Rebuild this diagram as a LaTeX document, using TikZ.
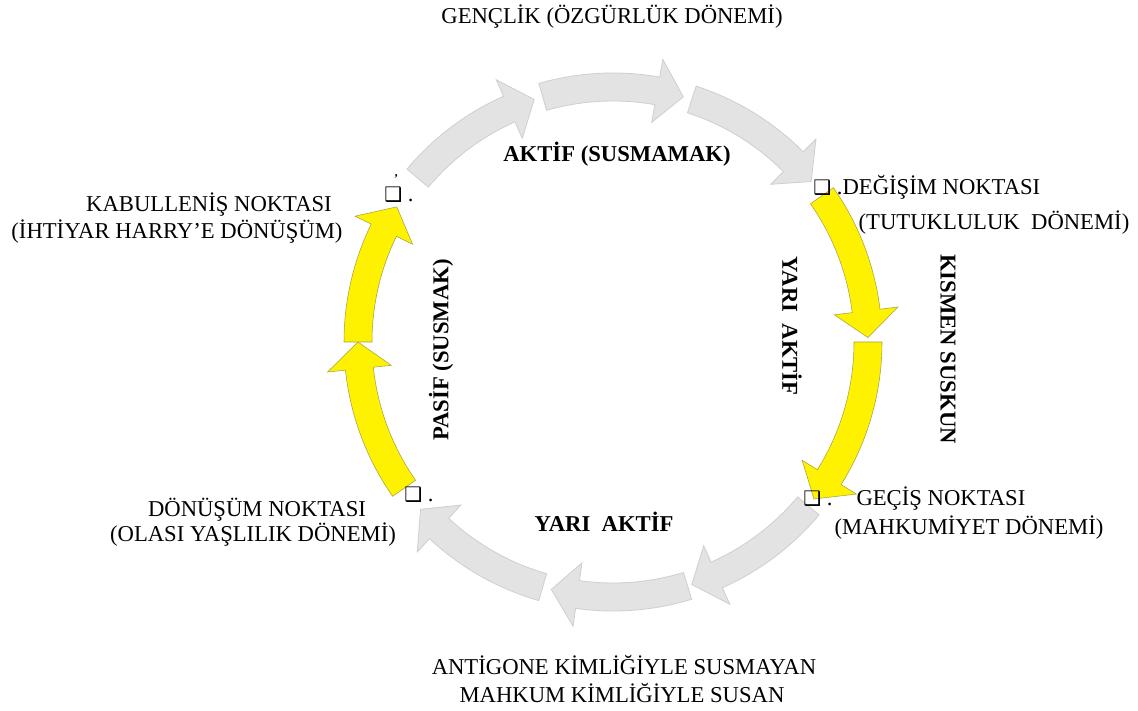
\documentclass[tikz,border=0pt]{standalone}
\usepackage{fontspec}
\setmainfont{Liberation Serif}
\newfontfamily\boxfont{DejaVu Sans}
\usepackage{tikz}
\usetikzlibrary{positioning}

% one curved block of the cycle: start angle, tip angle, style
\newcommand{\cycarrow}[3]{%
	\pgfmathsetmacro{\headang}{#2+6}
	\filldraw[#3] (#1:269) arc[start angle=#1, end angle=\headang, radius=269] -- (\headang:287) -- (#2:255) -- (\headang:223) -- (\headang:241) arc[start angle=\headang, end angle=#1, radius=241] -- cycle;
}
\newcommand{\qbox}{{\boxfont\fontsize{15}{15}\selectfont ❑}}

\begin{document}
\begin{tikzpicture}[x=0.75pt,y=0.75pt,
	txt/.style={inner sep=0pt, font=\fontsize{17}{20}\selectfont},
	bold/.style={inner sep=0pt, font=\fontsize{17}{20}\selectfont\bfseries},
	grayarrow/.style={fill=gray!22, draw=gray!38, line width=0.6pt},
	yellowarrow/.style={fill=yellow, draw=yellow!60!black, line width=0.4pt}]
\useasboundingbox[fill=white] (0,0) rectangle (1138,710);

\begin{scope}[shift={(613,368)}]
	\cycarrow{140}{108}{grayarrow}
	\cycarrow{106}{74}{grayarrow}
	\cycarrow{72}{39}{grayarrow}
	\cycarrow{35}{1}{yellowarrow}
	\cycarrow{0}{-38}{yellowarrow}
	\cycarrow{-40}{-72}{grayarrow}
	\cycarrow{-73}{-104}{grayarrow}
	\cycarrow{-106}{-139}{grayarrow}
	\cycarrow{-145}{-180}{yellowarrow}
	\cycarrow{180}{148}{yellowarrow}
\end{scope}

	\node[txt] (genclik) at (612,693) {GENÇLİK (ÖZGÜRLÜK DÖNEMİ)};
	\node[bold] (aktif) at (617,556) {AKTİF (SUSMAMAK)};

	\node[txt, anchor=west] (degisim) at (813,523) {\qbox\ .DEĞİŞİM NOKTASI};
	\node[txt] (tutuklu) at (994,487) {(TUTUKLULUK\ \ DÖNEMİ)};
	\node[bold, rotate=-90] (yariR) at (792,384) {YARI\ \ AKTİF};
	\node[bold, rotate=-90] (kismen) at (948,361) {KISMEN SUSKUN};

	\node[txt, anchor=west] (gecis) at (803,211) {\qbox\ .\hspace{18pt}GEÇİŞ NOKTASI};
	\node[txt] (mahkumiyet) at (969,182) {(MAHKUMİYET DÖNEMİ)};

	\node[bold] (yariB) at (604,188) {YARI\ \ AKTİF};
	\node[txt] (antigone) at (624,45) {ANTİGONE KİMLİĞİYLE SUSMAYAN};
	\node[txt] (mahkum) at (622,17) {MAHKUM KİMLİĞİYLE SUSAN};

	\node[txt, anchor=west] (donbox) at (404,215) {\qbox\ .};
	\node[txt] (donusum) at (257,200) {DÖNÜŞÜM NOKTASI};
	\node[txt] (olasi) at (253,175) {(OLASI YAŞLILIK DÖNEMİ)};

	\node[bold, rotate=90] (pasif) at (441,360) {PASİF (SUSMAK)};

	\node[txt, anchor=west] (kabbox) at (384,515) {\qbox\ .};
	\node[inner sep=0pt, font=\small\bfseries, above=3pt of kabbox.north west, xshift=9pt] (kabmark) {'};
	\node[txt] (kabul) at (209,505) {KABULLENİŞ NOKTASI};
	\node[txt] (ihtiyar) at (177,478) {(İHTİYAR HARRY’E DÖNÜŞÜM)};
\end{tikzpicture}
\end{document}
